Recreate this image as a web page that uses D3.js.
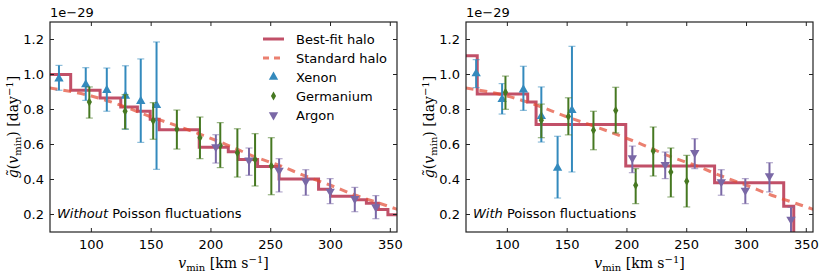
<!DOCTYPE html>
<html lang="en">
<head>
<meta charset="UTF-8">
<title>g tilde vs vmin</title>
<style>
  body { margin: 0; background: #fff; }
  text { font-family: "DejaVu Sans", sans-serif; fill: #000; }
  .tick-label { font-size: 13px; }
  .math { font-family: "DejaVu Serif", serif; font-size: 14px; }
</style>
</head>
<body>
<div id="chart"></div>
<script src="https://cdnjs.cloudflare.com/ajax/libs/d3/7.8.5/d3.min.js"></script>
<script>
// ---- data (units of 1e-29 day^-1, vmin in km/s) ----
const vTicks = [100, 150, 200, 250, 300, 350];
const gTicks = [0.2, 0.4, 0.6, 0.8, 1.0, 1.2];

// standard halo curve (same in both panels)
const stdHaloV = [65, 100, 121, 149, 177, 211, 237, 257, 279, 300, 321, 338, 356];
const stdHaloG = [0.923, 0.877, 0.833, 0.76, 0.694, 0.605, 0.529, 0.481, 0.42, 0.367, 0.31, 0.271, 0.229];

// best-fit halo steps: left edges and levels
const fitEdgesNoPoisson = [65, 82.7, 107.3, 124.6, 138.5, 149.2, 156.7, 190.2, 214.5, 222.9, 239, 257, 290, 300, 320, 330, 340, 348, 356];
const fitLevelsNoPoisson = [1.0, 0.91, 0.866, 0.814, 0.79, 0.744, 0.685, 0.585, 0.559, 0.515, 0.475, 0.403, 0.345, 0.305, 0.285, 0.265, 0.228, 0.198];
const fitEdgesPoisson = [65, 74.8, 117, 124, 199, 273.3, 331.1, 339.5, 356];
const fitLevelsPoisson = [1.107, 0.889, 0.843, 0.715, 0.477, 0.382, 0.247, 0.0];

// points: [vmin, g, low, high]
const xenonNoPoisson = [
  [72.9, 0.976, 0.910, 1.052], [95.3, 0.942, 0.852, 1.039], [112.9, 0.910, 0.790, 1.037],
  [128.5, 0.877, 0.687, 1.050], [141.3, 0.847, 0.612, 1.089], [154.5, 0.824, 0.458, 1.186]
];
const germaniumNoPoisson = [
  [98.3, 0.843, 0.751, 0.929], [128.2, 0.790, 0.689, 0.885], [151.7, 0.736, 0.630, 0.839],
  [171.5, 0.687, 0.574, 0.797], [190.8, 0.639, 0.519, 0.757], [207.8, 0.595, 0.468, 0.725],
  [222.1, 0.553, 0.414, 0.690], [236.9, 0.515, 0.363, 0.662], [250.5, 0.477, 0.313, 0.639]
];
const argonNoPoisson = [
  [204.1, 0.586, 0.494, 0.656], [231.8, 0.510, 0.424, 0.580], [257.0, 0.452, 0.329, 0.519],
  [279.3, 0.390, 0.310, 0.456], [299.7, 0.332, 0.262, 0.405], [320.3, 0.290, 0.216, 0.355],
  [337.9, 0.243, 0.176, 0.308]
];
const xenonPoisson = [
  [73.9, 1.005, 0.925, 1.085], [95.6, 0.858, 0.774, 0.948], [113.4, 0.913, 0.795, 1.047],
  [128.4, 0.761, 0.614, 0.929], [142.0, 0.466, 0.294, 0.647], [154.0, 0.795, 0.443, 1.161]
];
const germaniumPoisson = [
  [98.4, 0.898, 0.801, 0.991], [128.4, 0.738, 0.639, 0.831], [151.0, 0.76, 0.655, 0.867],
  [172.0, 0.681, 0.570, 0.790], [190.6, 0.795, 0.666, 0.927], [207.3, 0.367, 0.262, 0.462],
  [222.0, 0.563, 0.420, 0.700], [236.7, 0.443, 0.300, 0.580], [250.0, 0.390, 0.243, 0.538]
];
const argonPoisson = [
  [204.5, 0.523, 0.439, 0.591], [232.0, 0.485, 0.405, 0.557], [256.7, 0.553, 0.462, 0.633],
  [278.9, 0.386, 0.310, 0.456], [299.0, 0.338, 0.262, 0.405], [319.2, 0.420, 0.329, 0.496],
  [337.2, 0.172, 0.08, 0.241]
];

const legendLabels = ["Best-fit halo", "Standard halo", "Xenon", "Germanium", "Argon"];

const colors = {
  fit: "#A60628", std: "#E24A33",
  xenon: "#348ABD", germanium: "#467821", argon: "#7A68A6"
};

const W = 830, H = 277;
const svg = d3.select("#chart").append("svg").attr("width", W).attr("height", H);

const panels = [
  { left: 50, right: 397, id: "p0", fitE: fitEdgesNoPoisson, fitL: fitLevelsNoPoisson,
    xe: xenonNoPoisson, ge: germaniumNoPoisson, ar: argonNoPoisson,
    note: ["Without", " Poisson fluctuations"], legend: true },
  { left: 466, right: 813, id: "p1", fitE: fitEdgesPoisson, fitL: fitLevelsPoisson,
    xe: xenonPoisson, ge: germaniumPoisson, ar: argonPoisson,
    note: ["With", " Poisson fluctuations"], legend: false }
];
const plotTop = 22, plotBottom = 232;

function markerPath(kind) {
  if (kind === "xenon" || kind === "argon") return d3.symbol().type(d3.symbolTriangle).size(38)();
  return "M0,-4.5L2.6,0L0,4.5L-2.6,0Z";
}

function drawSeries(g, x, y, pts, kind) {
  const c = colors[kind];
  const s = g.append("g");
  pts.forEach(p => {
    const px = x(p[0]);
    s.append("line").attr("x1", px).attr("x2", px).attr("y1", y(p[2])).attr("y2", y(p[3]))
      .attr("stroke", c).attr("stroke-width", 2);
    [p[2], p[3]].forEach(v => {
      s.append("line").attr("x1", px - 3.5).attr("x2", px + 3.5).attr("y1", y(v)).attr("y2", y(v))
        .attr("stroke", c).attr("stroke-width", 1.2).attr("opacity", 0.55);
    });
    s.append("path").attr("d", markerPath(kind))
      .attr("transform", `translate(${px},${y(p[1])})` + (kind === "argon" ? " rotate(180)" : ""))
      .attr("fill", c);
  });
}

panels.forEach(P => {
  const x = d3.scaleLinear().domain([65.4, 355.6]).range([P.left, P.right]);
  const y = d3.scaleLinear().domain([0.1, 1.3]).range([plotBottom, plotTop]);

  svg.append("clipPath").attr("id", "clip-" + P.id)
    .append("rect").attr("x", P.left).attr("y", plotTop).attr("width", P.right - P.left).attr("height", plotBottom - plotTop);

  const g = svg.append("g").attr("clip-path", `url(#clip-${P.id})`);

  // best-fit step
  const fitPts = P.fitL.map((l, i) => [P.fitE[i], l]);
  fitPts.push([P.fitE[P.fitE.length - 1], P.fitL[P.fitL.length - 1]]);
  g.append("path").datum(fitPts)
    .attr("d", d3.line().x(d => x(d[0])).y(d => y(d[1])).curve(d3.curveStepAfter))
    .attr("fill", "none").attr("stroke", colors.fit).attr("stroke-opacity", 0.7).attr("stroke-width", 3);

  // standard halo
  g.append("path").datum(stdHaloV.map((v, i) => [v, stdHaloG[i]]))
    .attr("d", d3.line().x(d => x(d[0])).y(d => y(d[1])).curve(d3.curveMonotoneX))
    .attr("fill", "none").attr("stroke", colors.std).attr("stroke-opacity", 0.7)
    .attr("stroke-width", 3).attr("stroke-dasharray", "8,6");

  drawSeries(g, x, y, P.xe, "xenon");
  drawSeries(g, x, y, P.ge, "germanium");
  drawSeries(g, x, y, P.ar, "argon");

  // axes frame
  svg.append("rect").attr("x", P.left).attr("y", plotTop).attr("width", P.right - P.left).attr("height", plotBottom - plotTop)
    .attr("fill", "none").attr("stroke", "#222").attr("stroke-width", 1.2);

  // ticks inside, all sides
  vTicks.forEach(t => {
    const px = x(t);
    svg.append("line").attr("x1", px).attr("x2", px).attr("y1", plotBottom).attr("y2", plotBottom - 4).attr("stroke", "#222");
    svg.append("line").attr("x1", px).attr("x2", px).attr("y1", plotTop).attr("y2", plotTop + 4).attr("stroke", "#222");
    svg.append("text").attr("class", "tick-label").attr("x", px).attr("y", plotBottom + 17)
      .attr("text-anchor", "middle").text(t);
  });
  gTicks.forEach(t => {
    const py = y(t);
    svg.append("line").attr("x1", P.left).attr("x2", P.left + 4).attr("y1", py).attr("y2", py).attr("stroke", "#222");
    svg.append("line").attr("x1", P.right).attr("x2", P.right - 4).attr("y1", py).attr("y2", py).attr("stroke", "#222");
    svg.append("text").attr("class", "tick-label").attr("x", P.left - 6).attr("y", py + 4.5)
      .attr("text-anchor", "end").text(t.toFixed(1));
  });

  svg.append("text").attr("class", "tick-label").attr("x", P.left).attr("y", 17).text("1e\u221229");

  // y label
  const yl = svg.append("text").attr("class", "math")
    .attr("transform", `translate(${P.left - 32},${(plotTop + plotBottom) / 2}) rotate(-90)`)
    .attr("text-anchor", "middle");
  yl.append("tspan").attr("font-style", "italic").text("g\u0303");
  yl.append("tspan").text("(");
  yl.append("tspan").attr("font-style", "italic").text("v");
  yl.append("tspan").attr("font-size", "10px").attr("dy", 3).text("min");
  yl.append("tspan").attr("dy", -3).text(") [day");
  yl.append("tspan").attr("font-size", "10px").attr("dy", -5).text("\u22121");
  yl.append("tspan").attr("dy", 5).text("]");

  // x label
  const xl = svg.append("text").attr("class", "math")
    .attr("x", (P.left + P.right) / 2).attr("y", 268).attr("text-anchor", "middle");
  xl.append("tspan").attr("font-style", "italic").text("v");
  xl.append("tspan").attr("font-size", "10px").attr("dy", 3).text("min");
  xl.append("tspan").attr("dy", -3).text(" [km s");
  xl.append("tspan").attr("font-size", "10px").attr("dy", -5).text("\u22121");
  xl.append("tspan").attr("dy", 5).text("]");

  // note
  const nt = svg.append("text").attr("class", "tick-label").attr("x", P.left + 7).attr("y", 218);
  nt.append("tspan").attr("font-style", "italic").text(P.note[0]);
  nt.append("tspan").text(P.note[1]);

  if (P.legend) {
    const lg = svg.append("g");
    const rowY = [39, 58, 77, 96, 115];
    const lx0 = 263, lx1 = 284, tx = 296;
    lg.append("line").attr("x1", lx0).attr("x2", lx1).attr("y1", rowY[0]).attr("y2", rowY[0])
      .attr("stroke", colors.fit).attr("stroke-opacity", 0.7).attr("stroke-width", 3);
    lg.append("line").attr("x1", lx0).attr("x2", lx1).attr("y1", rowY[1]).attr("y2", rowY[1])
      .attr("stroke", colors.std).attr("stroke-opacity", 0.7).attr("stroke-width", 3).attr("stroke-dasharray", "6,5");
    ["xenon", "germanium", "argon"].forEach((k, i) => {
      lg.append("path").attr("d", markerPath(k))
        .attr("transform", `translate(${(lx0 + lx1) / 2},${rowY[i + 2]})` + (k === "argon" ? " rotate(180)" : ""))
        .attr("fill", colors[k]);
    });
    legendLabels.forEach((t, i) => {
      lg.append("text").attr("class", "tick-label").attr("x", tx).attr("y", rowY[i] + 4.5).text(t);
    });
  }
});
</script>
</body>
</html>
